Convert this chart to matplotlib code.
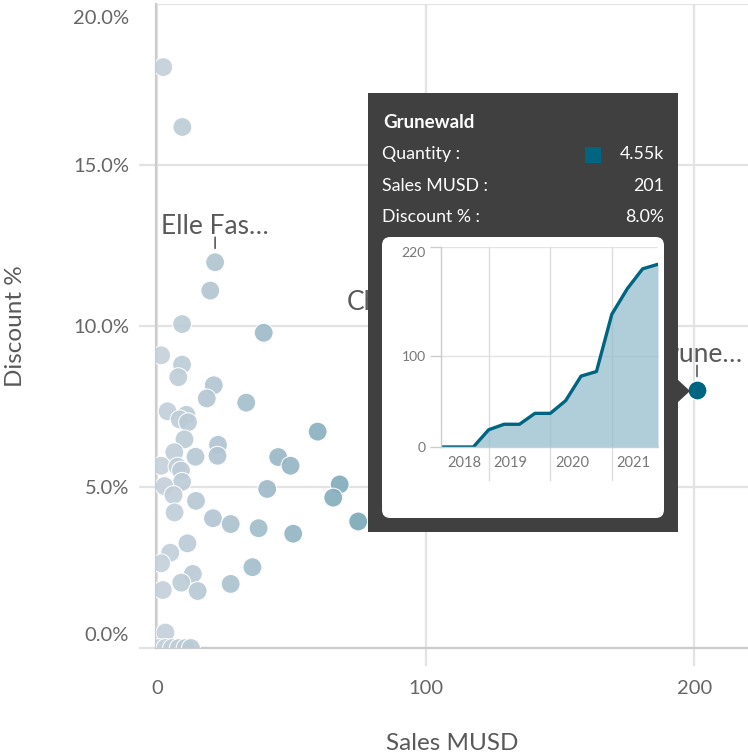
import matplotlib
matplotlib.use('Agg')
import matplotlib.pyplot as plt
import matplotlib.colors as mcolors
import matplotlib.transforms as mtransforms
from matplotlib.patches import Rectangle, FancyBboxPatch, Polygon

plt.rcParams['font.family'] = ['Lato', 'DejaVu Sans']

W, H = 748, 756

# ---- scatter data (Sales MUSD, Discount %) ----
sales = [2.2, 9.3, 21.5, 19.7, 9.2, 39.6, 1.4, 9.2, 7.8, 21.0,
         18.4, 33.1, 3.8, 10.8, 8.3, 11.4, 59.7, 10.1, 22.6, 6.3,
         22.4, 14.2, 45.0, 49.6, 1.4, 7.5, 8.8, 9.2, 67.9, 2.6,
         40.9, 6.0, 65.5, 14.4, 6.4, 20.7, 27.3, 37.7, 50.6, 74.8,
         11.2, 4.8, 1.4, 13.2, 35.4, 8.9, 2.0, 15.0, 27.3, 3.0,
         0.5, 3.0, 5.5, 8.0, 10.5, 12.5, 94.0]
discount = [18.04, 16.18, 11.98, 11.10, 10.06, 9.79, 9.09, 8.80, 8.41, 8.16,
            7.75, 7.62, 7.35, 7.24, 7.10, 7.01, 6.72, 6.48, 6.31, 6.08,
            5.97, 5.94, 5.93, 5.66, 5.66, 5.63, 5.51, 5.16, 5.08, 5.03,
            4.94, 4.75, 4.67, 4.57, 4.21, 4.03, 3.85, 3.72, 3.55, 3.93,
            3.25, 2.96, 2.63, 2.30, 2.51, 2.03, 1.80, 1.77, 1.99, 0.48,
            0.0, 0.0, 0.0, 0.0, 0.0, 0.0, 9.6]

# selected customer
sel_name = 'Grunewald'
sel_sales = 201
sel_discount = 8.0
sel_quantity = '4.55k'

# point labels shown on the chart
label_text = ['Elle Fas\u2026', 'Chambre\u2026', 'Grune\u2026']
label_sales = [21.5, 94.0, 201]
label_disc = [11.98, 9.6, 8.0]

# mini chart: cumulative sales per quarter for the selected customer
quarters = ['2018 Q2', '2018 Q3', '2018 Q4',
            '2019 Q1', '2019 Q2', '2019 Q3', '2019 Q4',
            '2020 Q1', '2020 Q2', '2020 Q3', '2020 Q4',
            '2021 Q1', '2021 Q2', '2021 Q3', '2021 Q4']
cum_sales = [0, 0, 0, 19, 25, 25, 37, 37, 51, 78, 83, 146, 174, 196, 201]

GRID = '#e3e3e3'
AXIS = '#cccccc'
TXT = '#666666'
SEL = '#006580'

cmap = mcolors.LinearSegmentedColormap.from_list('qty', ['#c6d1db', SEL])
norm = mcolors.Normalize(0, 201)

fig = plt.figure(figsize=(W / 100, H / 100), dpi=100)
ax = fig.add_axes([155.5 / W, 1 - 648 / H, (W - 155.5) / W, 644 / H])

ax.set_xlim(-0.7, 220)
ax.set_ylim(0, 20)

ax.scatter(sales, discount, s=185, c=[cmap(norm(v)) for v in sales],
           edgecolors='white', linewidths=0.8, alpha=0.92, zorder=3)
ax.scatter([sel_sales], [sel_discount], s=185, color=SEL,
           edgecolors='white', linewidths=0.8, zorder=4)

for t, x, y in zip(label_text, label_sales, label_disc):
    ax.annotate(t, (x, y), xytext=(0, 36), textcoords='offset pixels',
                ha='center', va='center', fontsize=19, color='#595959',
                annotation_clip=False, zorder=5)
    ax.annotate('', (x, y), xytext=(0, 25), textcoords='offset pixels',
                arrowprops=dict(arrowstyle='-', color='#595959', lw=1.2,
                                shrinkA=0, shrinkB=10),
                annotation_clip=False, zorder=5)

ax.set_xticks([0, 100, 200])
ax.set_yticks([0, 5, 10, 15, 20])
ax.set_yticklabels([f'{v:.1f}%' for v in [0, 5, 10, 15, 20]])
ax.grid(True, color=GRID, lw=1.6, zorder=0)
ax.set_axisbelow(True)
ax.tick_params(axis='x', length=13, width=1.6, color=GRID, pad=10,
               labelsize=14.5, labelcolor=TXT)
ax.tick_params(axis='y', length=12, width=1.6, color=GRID, pad=7,
               labelsize=14.5, labelcolor=TXT)
ax.xaxis.get_major_ticks()[0].tick1line.set_visible(False)
ax.yaxis.get_major_ticks()[-1].tick1line.set_visible(False)

# first / last y labels are kept inside the plot height
ylabs = ax.get_yticklabels()
ylabs[0].set_va('bottom')
ylabs[0].set_transform(ylabs[0].get_transform() +
                       mtransforms.ScaledTranslation(0, 4 / 100, fig.dpi_scale_trans))
ylabs[-1].set_va('top')
ylabs[-1].set_transform(ylabs[-1].get_transform() +
                        mtransforms.ScaledTranslation(0, -6 / 100, fig.dpi_scale_trans))

for s in ['top', 'right']:
    ax.spines[s].set_visible(False)
for s in ['left', 'bottom']:
    ax.spines[s].set_color(AXIS)
    ax.spines[s].set_linewidth(1.6)

ax.set_xlabel('Sales MUSD', fontsize=17.5, color='#595959', va='center')
ax.set_ylabel('Discount %', fontsize=17.5, color='#595959', va='center')
ax.xaxis.set_label_coords(0.5, -0.149)
ax.yaxis.set_label_coords(-0.237, 0.5)


def fx(px):
    return px / W


def fy(py):
    return 1 - py / H


# ---- tooltip ----
fig.patches.append(Rectangle((fx(367.5), fy(532)), (678 - 367.5) / W, (532 - 93) / H,
                             transform=fig.transFigure, facecolor='#404040',
                             edgecolor='none', zorder=2))
fig.patches.append(Polygon([(fx(677), fy(379)), (fx(677), fy(403)), (fx(690), fy(391))],
                           closed=True, transform=fig.transFigure,
                           facecolor='#404040', edgecolor='none', zorder=2))
fig.patches.append(FancyBboxPatch((fx(382), fy(518)), (664 - 382) / W, (518 - 237) / H,
                                  boxstyle='round,pad=0,rounding_size=0.011',
                                  transform=fig.transFigure, facecolor='white',
                                  edgecolor='none', zorder=2.5))
fig.patches.append(Rectangle((fx(585), fy(162.5)), 15.5 / W, 15.5 / H,
                             transform=fig.transFigure, facecolor=SEL,
                             edgecolor='none', zorder=2.5))

fig.text(fx(383), fy(122), sel_name, color='white', fontsize=13.5, fontweight='bold',
         ha='left', va='center', zorder=4)
rows = [('Quantity :', sel_quantity), ('Sales MUSD :', f'{sel_sales}'),
        ('Discount % :', f'{sel_discount:.1f}%')]
for (k, v), py in zip(rows, [154, 186, 217]):
    fig.text(fx(382), fy(py), k, color='white', fontsize=12.8, ha='left', va='center', zorder=4)
    fig.text(fx(664), fy(py), v, color='white', fontsize=12.8, ha='right', va='center', zorder=4)

# ---- mini chart ----
ax2 = fig.add_axes([fx(441), fy(447), 217 / W, 200 / H], zorder=5)
ax2.patch.set_visible(False)
idx = list(range(len(quarters)))
ax2.set_xlim(-0.1, len(quarters) - 1)
ax2.set_ylim(0, 220)
ax2.axhline(100, color=GRID, lw=1, zorder=0)
ax2.axhline(220, color=GRID, lw=1, zorder=0)
years = []
for i, q in enumerate(quarters):
    yr = q.split()[0]
    if yr not in years:
        years.append(yr)
        ax2.text(i + 0.3, -0.08, yr,
                 transform=ax2.get_xaxis_transform(), ha='left', va='center',
                 fontsize=10.5, color='#777777')
    if q.endswith('Q1'):
        ax2.axvline(i, ymin=-33 / 200, ymax=1, color='#dddddd', lw=1,
                    clip_on=False, zorder=0)
ax2.fill_between(idx, cum_sales, color='#8dbacb', alpha=0.7, lw=0, zorder=1)
ax2.plot(idx, cum_sales, color=SEL, lw=2.4, zorder=2)
ax2.set_xticks([])
ax2.set_yticks([0, 100, 220])
ax2.tick_params(axis='y', length=8, width=1, color='#cccccc', pad=3,
                labelsize=10, labelcolor='#777777')
y2labs = ax2.get_yticklabels()
y2labs[-1].set_va('top')
for s in ['top', 'right']:
    ax2.spines[s].set_visible(False)
for s in ['left', 'bottom']:
    ax2.spines[s].set_color('#cccccc')
    ax2.spines[s].set_linewidth(1)

fig.savefig('out.png', dpi=100)
